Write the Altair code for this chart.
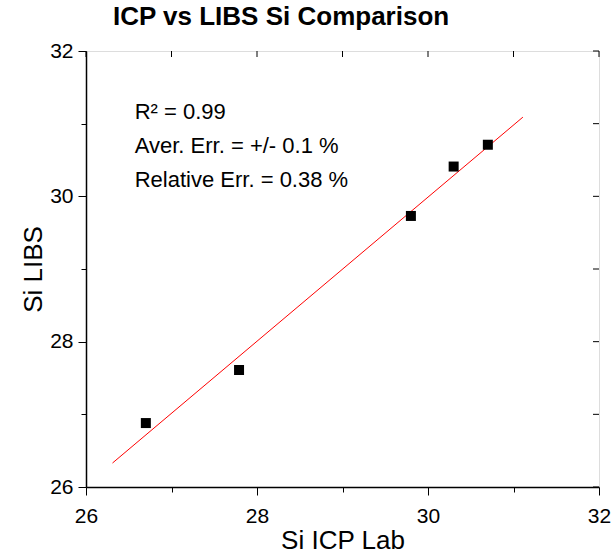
import altair as alt
import pandas as pd

# Data
icp_lab = [26.70, 27.79, 29.80, 30.30, 30.70]
si_libs = [26.88, 27.61, 29.73, 30.41, 30.71]

fit_x = [26.31, 31.11]
fit_y = [26.33, 31.09]

tick_values = [26, 27, 28, 29, 30, 31, 32]

notes = ["R² = 0.99", "Aver. Err. = +/- 0.1 %", "Relative Err. = 0.38 %"]
note_x = [26.57, 26.57, 26.57]
note_y = [31.06, 30.60, 30.13]

FONT = "Liberation Sans"

pts = pd.DataFrame({"x": icp_lab, "y": si_libs})
fit = pd.DataFrame({"x": fit_x, "y": fit_y})
ticks = pd.DataFrame({"v": tick_values})
notes_df = pd.DataFrame({"t": notes, "x": note_x, "y": note_y})

xscale = alt.Scale(domain=[26, 32], nice=False, zero=False)
yscale = alt.Scale(domain=[26, 32], nice=False, zero=False)

common_axis = dict(
    values=tick_values,
    format="d",
    labelExpr="datum.value % 2 == 0 ? datum.label : ''",
    tickSize={"condition": {"test": "datum.value % 2 != 0", "value": 5}, "value": 8},
    tickColor="black",
    domainColor="black",
    domainWidth=1.5,
    labelColor="black",
    titleColor="black",
    labelFont=FONT,
    titleFont=FONT,
    labelFontSize=21,
    titleFontSize=26,
    titleFontWeight="normal",
    grid=False,
    labelFlush=False,
)

xaxis = alt.Axis(title="Si ICP Lab", labelPadding=10, titlePadding=1, **common_axis)
yaxis = alt.Axis(title="Si LIBS", labelPadding=5, titlePadding=3, **common_axis)

points = alt.Chart(pts).mark_point(shape="square", filled=True, size=100, color="black", opacity=1).encode(
    x=alt.X("x:Q", scale=xscale, axis=xaxis),
    y=alt.Y("y:Q", scale=yscale, axis=yaxis),
)

line = alt.Chart(fit).mark_line(color="red", strokeWidth=1).encode(
    x=alt.X("x:Q", scale=xscale),
    y=alt.Y("y:Q", scale=yscale),
)

top_ticks = alt.Chart(ticks).mark_rule(color="black", strokeWidth=1).encode(
    x=alt.X("v:Q", scale=xscale),
    y=alt.value(0),
    y2=alt.value(6),
)

right_ticks = alt.Chart(ticks).mark_rule(color="black", strokeWidth=1).encode(
    y=alt.Y("v:Q", scale=yscale),
    x=alt.value(513),
    x2=alt.value(507),
)

text = alt.Chart(notes_df).mark_text(
    align="left", baseline="alphabetic", font=FONT, fontSize=22, color="black"
).encode(
    x=alt.X("x:Q", scale=xscale),
    y=alt.Y("y:Q", scale=yscale),
    text="t:N",
)

chart = alt.layer(line, top_ticks, right_ticks, points, text).properties(
    width=513,
    height=436,
    autosize="none",
    padding={"left": 86, "top": 51, "right": 15, "bottom": 70},
    title=alt.TitleParams(
        text="ICP vs LIBS Si Comparison",
        font=FONT,
        fontSize=26,
        fontWeight="bold",
        color="black",
        anchor="start",
        dx=27,
        offset=-11,
        baseline="alphabetic",
        frame="group",
    ),
).configure_view(stroke="black", strokeWidth=1.5).configure(background="white")

chart.save("out.html", embed_options={"renderer": "svg", "actions": False})
